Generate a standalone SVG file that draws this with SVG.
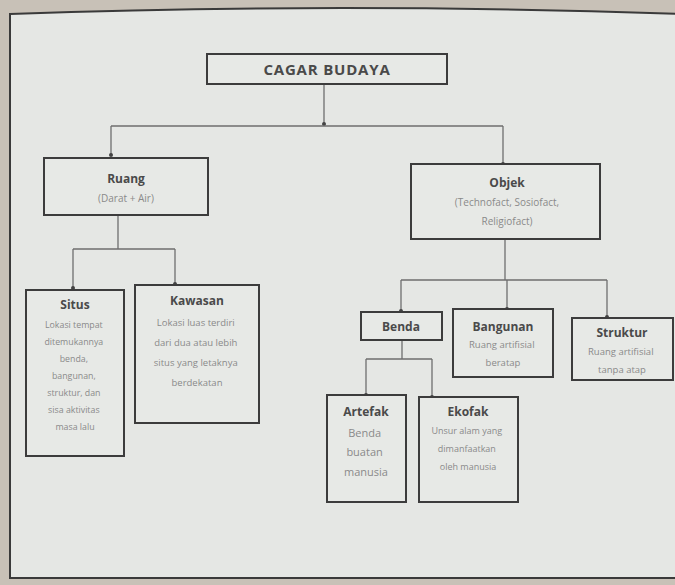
<svg xmlns="http://www.w3.org/2000/svg" width="675" height="585" viewBox="0 0 675 585">
<defs>
<style>
.box{fill:#e7e9e6;stroke:#3c3c3c;stroke-width:2}
.ln{fill:none;stroke:#6e6e6e;stroke-width:1.3}
.t{font-family:"Open Sans","Liberation Sans",sans-serif;font-weight:bold;fill:#4a4a4a;text-anchor:middle}
.d{font-family:"Open Sans","Liberation Sans",sans-serif;fill:#8a8a8a;text-anchor:middle}
</style>
<marker id="dot" viewBox="0 0 6 6" refX="3" refY="3" markerWidth="4" markerHeight="4" markerUnits="userSpaceOnUse"><circle cx="3" cy="3" r="3" fill="#444"/></marker>
</defs>
<rect x="0" y="0" width="675" height="585" fill="#c8c1b7"/>
<path d="M10,14 Q340,2 680,14 L680,578 L10,578 Z" fill="#e5e7e4" stroke="#3a3a3a" stroke-width="2"/>
<g id="connectors">
<path class="ln" d="M324,84 V124" marker-end="url(#dot)"/>
<path class="ln" d="M111,126 H503"/>
<path class="ln" d="M111,126 V155" marker-end="url(#dot)"/>
<path class="ln" d="M503,126 V164" marker-end="url(#dot)"/>
<path class="ln" d="M118,215 V249"/>
<path class="ln" d="M73,249 H175"/>
<path class="ln" d="M73,249 V288" marker-end="url(#dot)"/>
<path class="ln" d="M175,249 V284" marker-end="url(#dot)"/>
<path class="ln" d="M505,239 V280"/>
<path class="ln" d="M401,280 H607"/>
<path class="ln" d="M401,280 V311" marker-end="url(#dot)"/>
<path class="ln" d="M507,280 V309" marker-end="url(#dot)"/>
<path class="ln" d="M607,280 V317" marker-end="url(#dot)"/>
<path class="ln" d="M402,340 V359"/>
<path class="ln" d="M366,359 H432"/>
<path class="ln" d="M366,359 V395" marker-end="url(#dot)"/>
<path class="ln" d="M432,359 V397" marker-end="url(#dot)"/>
</g>
<g id="cagar-budaya">
<rect class="box" x="207" y="54" width="240" height="30"/>
<text class="t" x="327" y="75" font-size="15" font-family="Liberation Sans" letter-spacing="0.8" fill="#505050">CAGAR BUDAYA</text>
</g>
<g id="ruang">
<rect class="box" x="44" y="158" width="164" height="57"/>
<text class="t" x="126" y="183" font-size="12">Ruang</text>
<text class="d" x="126" y="202" font-size="10">(Darat + Air)</text>
</g>
<g id="objek">
<rect class="box" x="411" y="164" width="189" height="75"/>
<text class="t" x="507" y="187" font-size="12">Objek</text>
<text class="d" x="507" y="206" font-size="10">(Technofact, Sosiofact,</text>
<text class="d" x="507" y="225" font-size="10">Religiofact)</text>
</g>
<g id="situs">
<rect class="box" x="26" y="290" width="98" height="166"/>
<text class="t" x="75" y="309" font-size="12">Situs</text>
<text class="d" font-size="8.8">
<tspan x="75" y="328">Lokasi tempat</tspan>
<tspan x="75" y="345">ditemukannya</tspan>
<tspan x="75" y="362">benda,</tspan>
<tspan x="75" y="379">bangunan,</tspan>
<tspan x="75" y="396">struktur, dan</tspan>
<tspan x="75" y="413">sisa aktivitas</tspan>
<tspan x="75" y="430">masa lalu</tspan>
</text>
</g>
<g id="kawasan">
<rect class="box" x="135" y="285" width="124" height="138"/>
<text class="t" x="197" y="305" font-size="12">Kawasan</text>
<text class="d" font-size="9.5">
<tspan x="197" y="326">Lokasi luas terdiri</tspan>
<tspan x="197" y="346">dari dua atau lebih</tspan>
<tspan x="197" y="366">situs yang letaknya</tspan>
<tspan x="197" y="386">berdekatan</tspan>
</text>
</g>
<g id="benda">
<rect class="box" x="361" y="312" width="81" height="28"/>
<text class="t" x="401" y="331" font-size="12">Benda</text>
</g>
<g id="bangunan">
<rect class="box" x="453" y="309" width="100" height="68"/>
<text class="t" x="503" y="331" font-size="12">Bangunan</text>
<text class="d" font-size="9.5">
<tspan x="503" y="348">Ruang artifisial</tspan>
<tspan x="503" y="366">beratap</tspan>
</text>
</g>
<g id="struktur">
<rect class="box" x="572" y="318" width="101" height="62"/>
<text class="t" x="622" y="337" font-size="12">Struktur</text>
<text class="d" font-size="9.5">
<tspan x="622" y="355">Ruang artifisial</tspan>
<tspan x="622" y="373">tanpa atap</tspan>
</text>
</g>
<g id="artefak">
<rect class="box" x="327" y="395" width="79" height="107"/>
<text class="t" x="366" y="416" font-size="12">Artefak</text>
<text class="d" font-size="11">
<tspan x="366" y="437">Benda</tspan>
<tspan x="366" y="456">buatan</tspan>
<tspan x="366" y="476">manusia</tspan>
</text>
</g>
<g id="ekofak">
<rect class="box" x="419" y="397" width="99" height="105"/>
<text class="t" x="468" y="416" font-size="12">Ekofak</text>
<text class="d" font-size="9">
<tspan x="468" y="434">Unsur alam yang</tspan>
<tspan x="468" y="452">dimanfaatkan</tspan>
<tspan x="468" y="470">oleh manusia</tspan>
</text>
</g>
</svg>
